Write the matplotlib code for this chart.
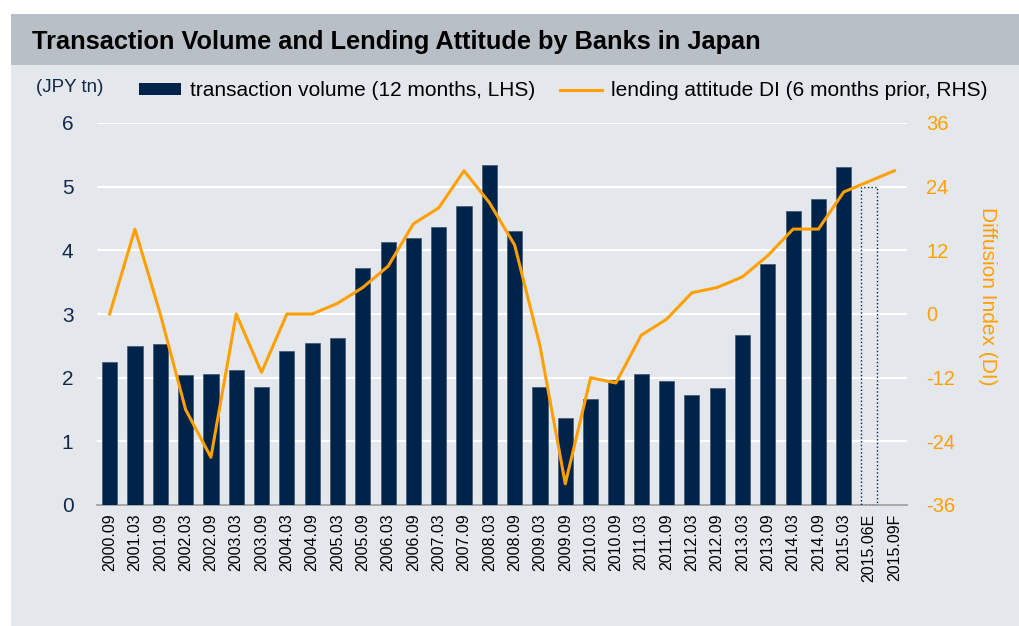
import numpy as np
import matplotlib.pyplot as plt
from matplotlib.patches import Rectangle
from matplotlib.lines import Line2D

plt.rcParams['font.family'] = ['Liberation Sans', 'DejaVu Sans']
plt.rcParams['axes.unicode_minus'] = False

#data
periods = ['2000.09', '2001.03', '2001.09', '2002.03', '2002.09', '2003.03', '2003.09',
           '2004.03', '2004.09', '2005.03', '2005.09', '2006.03', '2006.09', '2007.03',
           '2007.09', '2008.03', '2008.09', '2009.03', '2009.09', '2010.03', '2010.09',
           '2011.03', '2011.09', '2012.03', '2012.09', '2013.03', '2013.09', '2014.03',
           '2014.09', '2015.03', '2015.06E', '2015.09F']
volume = [2.24, 2.49, 2.53, 2.04, 2.06, 2.12, 1.85, 2.42, 2.54, 2.63, 3.72, 4.13, 4.20,
          4.36, 4.70, 5.34, 4.30, 1.86, 1.36, 1.67, 1.97, 2.06, 1.94, 1.73, 1.84, 2.67,
          3.79, 4.62, 4.81, 5.31]
volumeEstimate = 5.00  #2015.06E, drawn as dotted outline
lendingDI = [0, 16, 0, -18, -27, 0, -11, 0, 0, 2, 5, 9, 17, 20, 27, 21, 13, -6, -32,
             -12, -13, -4, -1, 4, 5, 7, 11, 16, 16, 23, 25, 27]

navy = '#00234A'
orange = '#FFA000'
tickNavy = '#12294A'

W, H = 1019, 626
fig = plt.figure(figsize=(W / 100, H / 100), dpi=100)
fig.patch.set_facecolor('white')

#background panel and title bar
fig.patches.append(Rectangle((11 / W, 0), 1 - 11 / W, 1 - 14 / H, transform=fig.transFigure,
                             facecolor='#E4E7EC', edgecolor='none', zorder=-2))
fig.patches.append(Rectangle((11 / W, 1 - 65 / H), 1 - 11 / W, 51 / H, transform=fig.transFigure,
                             facecolor='#B8BFC7', edgecolor='none', zorder=-1))
fig.text(32 / W, 1 - 42 / H, 'Transaction Volume and Lending Attitude by Banks in Japan',
         fontsize=18.3, fontweight='bold', color='black', va='center', ha='left')

ax = fig.add_axes([97 / W, 1 - 505 / H, (907 - 97) / W, (505 - 123) / H])
ax.set_facecolor('none')
x = np.arange(len(periods))

ax.bar(x[:len(volume)], volume, width=0.6, color=navy, edgecolor='#4A5F78', linewidth=0.6, zorder=3)
ax.bar(x[len(volume)], volumeEstimate, width=0.6, facecolor='none', edgecolor=navy,
       linewidth=1.0, linestyle=':', zorder=3)

ax.set_xlim(-0.5, len(periods) - 0.5)
ax.set_ylim(0, 6)
ax.set_yticks(range(0, 7))
ax.yaxis.grid(True, color='white', linewidth=1.5, zorder=0)
ax.set_axisbelow(True)
ax.set_xticks(x)
ax.set_xticklabels(periods, rotation=90, fontsize=11.5, color='black')
ax.tick_params(axis='x', length=0, pad=6)
ax.tick_params(axis='y', length=0, labelsize=15, labelcolor=tickNavy, pad=17)
for s in ['top', 'right', 'left']:
    ax.spines[s].set_visible(False)
ax.spines['bottom'].set_color('#999999')
ax.spines['bottom'].set_linewidth(1.2)

ax2 = ax.twinx()
ax2.plot(x, lendingDI, color=orange, linewidth=2.2, zorder=4)
ax2.set_ylim(-36, 36)
ax2.set_yticks(range(-36, 37, 12))
ax2.tick_params(axis='y', length=0, labelsize=14.5, labelcolor=orange, pad=14)
for s in ['top', 'right', 'left', 'bottom']:
    ax2.spines[s].set_visible(False)
ax2.set_ylabel('Diffusion Index (DI)', rotation=270, color=orange, fontsize=15,
               va='center', ha='center')
ax2.yaxis.set_label_coords((987 - 97) / 810, (505 - 296) / 382)

fig.text(70 / W, 1 - 88 / H, '(JPY tn)', fontsize=13.5, color=tickNavy, ha='center', va='center')

handles = [Rectangle((0, 0), 1, 1, facecolor=navy, edgecolor='none'),
           Line2D([0], [0], color=orange, linewidth=2.2)]
fig.legend(handles, ['transaction volume (12 months, LHS)', 'lending attitude DI (6 months prior, RHS)'],
           ncol=2, frameon=False, fontsize=15, loc='center left',
           bbox_to_anchor=(139 / W, 1 - 91 / H), handlelength=2.0, handleheight=0.55,
           handletextpad=0.45, columnspacing=1.2, borderpad=0, borderaxespad=0)

fig.savefig('out.png', dpi=100)
